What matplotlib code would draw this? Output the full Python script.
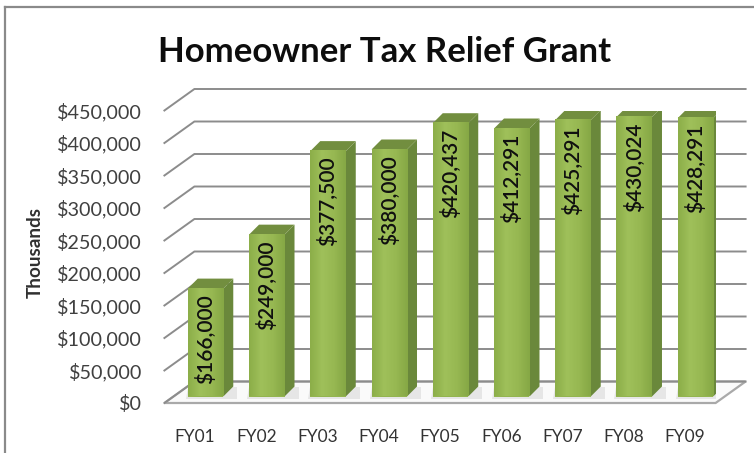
#!/usr/bin/python3

import numpy as np
import matplotlib
matplotlib.use('Agg')
import matplotlib.pyplot as plt
from matplotlib.patches import Polygon
from matplotlib.colors import LinearSegmentedColormap

years = ['FY01', 'FY02', 'FY03', 'FY04', 'FY05', 'FY06', 'FY07', 'FY08', 'FY09']
grant = [166000, 249000, 377500, 380000, 420437, 412291, 425291, 430024, 428291]
axis_ticks = [0, 50000, 100000, 150000, 200000, 250000, 300000, 350000, 400000, 450000]

W, H = 754, 453
PX_X = 61.25              # pixels per category
PX_Y = 32.5 / 50000       # pixels per dollar

plt.rcParams['font.family'] = ['Lato', 'DejaVu Sans']


def px_x(p):
    return p / PX_X


def px_y(p):
    return p / PX_Y


def main():
    fig = plt.figure(figsize=(W / 100, H / 100), dpi=100, facecolor='white')

    # plot box: the front edge of the floor, left to right, $0 to $450,000
    left, right, bottom = 164.4, 715.6, 403
    top = bottom - 450000 * PX_Y
    ax = fig.add_axes([left / W, 1 - bottom / H, (right - left) / W, (bottom - top) / H])
    ax.patch.set_visible(False)
    for s in ax.spines.values():
        s.set_visible(False)

    wall_dx, wall_dy = px_x(30), px_y(21.5)
    x0, x1 = -0.5, 8.5

    # floor
    floor = [(x0, 0), (x1, 0), (x1 + wall_dx, wall_dy), (x0 + wall_dx, wall_dy)]
    ax.add_patch(Polygon(floor, closed=True, facecolor='#fafafa', edgecolor='#a9a9a9',
                         linewidth=1.6, clip_on=False, zorder=1))

    # gridlines run along the back wall and fold forward on the left wall
    for v in axis_ticks:
        ax.plot([x0, x0 + wall_dx, x1 + wall_dx], [v, v + wall_dy, v + wall_dy],
                color='#8c8c8c', linewidth=1.4, clip_on=False, zorder=2)

    # bars
    x = np.arange(len(grant))
    shift, lift = px_x(10.5), px_y(6.5)
    width = px_x(35.5)
    dx, dy = px_x(10), px_y(10)
    front_cmap = LinearSegmentedColormap.from_list('front', ['#8cae49', '#9fc05a', '#97b852', '#86a845'])
    for xi, v in zip(x, grant):
        l = xi + shift - width / 2
        r = l + width
        ax.add_patch(Polygon([(l - px_x(2), lift - px_y(2)), (r + dx + px_x(4), lift - px_y(2)),
                              (r + dx + px_x(4), lift + dy), (l, lift + dy)],
                             closed=True, facecolor='#e6e6e6', edgecolor='none', zorder=3))
        ax.add_patch(Polygon([(r, lift), (r + dx, lift + dy), (r + dx, lift + v + dy), (r, lift + v)],
                             closed=True, facecolor='#6a883b', edgecolor='none', zorder=4))
        ax.add_patch(Polygon([(l, lift + v), (r, lift + v), (r + dx, lift + v + dy), (l + dx, lift + v + dy)],
                             closed=True, facecolor='#728e3f', edgecolor='none', zorder=4))
    bars = ax.bar(x + shift, grant, width, bottom=lift, color='#93b44f', linewidth=0, zorder=5)

    # soft left-to-right shading across each bar front
    shade = np.linspace(0, 1, 32).reshape(1, -1)
    for rect in bars:
        ax.imshow(shade, cmap=front_cmap, aspect='auto', zorder=5.5,
                  extent=(rect.get_x(), rect.get_x() + rect.get_width(),
                          rect.get_y(), rect.get_y() + rect.get_height()))
    ax.set_xlim(-0.5, 8.5)
    ax.set_ylim(0, 450000)

    for xi, v in zip(x, grant):
        ax.annotate('${:,}'.format(v), (xi + shift, lift + v), xytext=(0, -4),
                    textcoords='offset points', rotation=90, ha='center', va='top',
                    fontsize=15, fontweight='semibold', color='#101010', zorder=6)

    ax.set_yticks(axis_ticks)
    ax.set_yticklabels(['${:,}'.format(v) for v in axis_ticks], fontsize=14.2, color='#404040')
    ax.set_xticks(x)
    ax.set_xticklabels(years, fontsize=12.5, color='#333333')
    ax.tick_params(axis='both', length=0)
    ax.tick_params(axis='y', pad=16)
    ax.tick_params(axis='x', pad=19)

    fig.text(35 / W, 1 - 253 / H, 'Thousands', rotation=90, ha='center', va='center',
             fontsize=13.6, fontweight='bold', color='#303030')
    fig.text(385 / W, 1 - 52 / H, 'Homeowner Tax Relief Grant', ha='center', va='center',
             fontsize=25, fontweight='bold', color='#0d0d0d')

    # frame around the slide
    fig.add_artist(plt.Line2D([5 / W, 5 / W], [0, 1 - 7 / H], color='#8a8a8a', linewidth=1.6))
    fig.add_artist(plt.Line2D([5 / W, 1], [1 - 7 / H, 1 - 7 / H], color='#8a8a8a', linewidth=1.6))

    plt.savefig('out.png', dpi=100)


if __name__ == "__main__":
    main()
